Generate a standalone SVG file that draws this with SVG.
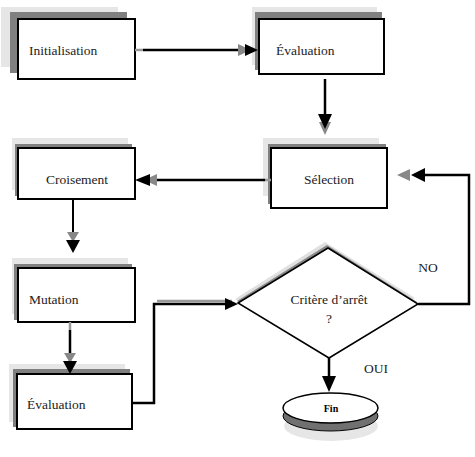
<svg xmlns="http://www.w3.org/2000/svg" width="475" height="457" viewBox="0 0 475 457">
<style>
.l1{fill:#e6e6e6}
.l2{fill:#808080}
.box{fill:#fff;stroke:#000;stroke-width:2}
text{font-family:'Liberation Serif','DejaVu Serif','Times New Roman',serif}
.t{font-size:13.5px;fill:#222}
.c{fill:none;stroke:#000;stroke-width:2.5}
.ah{fill:#000}
.ag{fill:#888}
</style>
<rect width="475" height="457" fill="#fff"/>
<g id="initialisation">
<rect class="l1" x="1" y="7" width="117" height="60"/>
<rect class="l2" x="10" y="12" width="117" height="61"/>
<rect class="box" x="18" y="19" width="117" height="60"/>
<text class="t" x="29" y="55" font-family="Liberation Serif, serif">Initialisation</text>
</g>
<g id="evaluation1">
<rect class="l1" x="252" y="7" width="125" height="58"/>
<rect class="l2" x="255" y="12" width="127" height="58"/>
<rect class="box" x="259" y="19" width="125" height="55"/>
<text class="t" x="276" y="55" font-family="Liberation Serif, serif">Évaluation</text>
</g>
<g id="selection">
<rect class="l1" x="263" y="138" width="116" height="58"/>
<rect class="l2" x="268" y="144" width="118" height="60"/>
<rect class="box" x="271" y="148" width="116" height="60"/>
<text class="t" x="329" y="184" text-anchor="middle" font-family="Liberation Serif, serif">Sélection</text>
</g>
<g id="croisement">
<rect class="l1" x="12" y="138" width="116" height="52"/>
<rect class="l2" x="15" y="144" width="117" height="52"/>
<rect class="box" x="18" y="148" width="117" height="51"/>
<text class="t" x="77" y="184" text-anchor="middle" font-family="Liberation Serif, serif">Croisement</text>
</g>
<g id="mutation">
<rect class="l1" x="12" y="258" width="116" height="56"/>
<rect class="l2" x="14" y="264" width="118" height="56"/>
<rect class="box" x="18" y="268" width="117" height="54"/>
<text class="t" x="29" y="304" font-family="Liberation Serif, serif">Mutation</text>
</g>
<g id="evaluation2">
<rect class="l1" x="9" y="364" width="116" height="58"/>
<rect class="l2" x="13" y="369" width="117" height="58"/>
<rect class="box" x="17" y="374" width="115" height="55"/>
<text class="t" x="27" y="409" font-family="Liberation Serif, serif">Évaluation</text>
</g>
<g id="critere">
<polygon points="235,299 325,242 415,298 326,352" fill="#e0e0e0"/>
<polygon points="237,301 327,245 417,302 328,356" fill="#888"/>
<polygon points="238,303 328,248 418,304 329,358" fill="#fff" stroke="#000" stroke-width="1.5"/>
<text class="t" x="329" y="304" text-anchor="middle" font-family="Liberation Serif, serif">Critère d’arrêt</text>
<text class="t" x="329" y="323" text-anchor="middle" font-family="Liberation Serif, serif">?</text>
</g>
<g id="fin">
<ellipse cx="331" cy="426" rx="47" ry="15" fill="#e6e6e6"/>
<ellipse cx="330.5" cy="416" rx="47.5" ry="15" fill="#707070" stroke="#000" stroke-width="1"/>
<ellipse cx="330.5" cy="408" rx="47.5" ry="15" fill="#fff" stroke="#000" stroke-width="1.5"/>
<text x="331" y="412" text-anchor="middle" font-family="Liberation Serif, serif" font-size="10" font-weight="bold" fill="#000">Fin</text>
</g>
<g id="labels">
<text class="t" x="428" y="272" text-anchor="middle" font-family="Liberation Serif, serif">NO</text>
<text class="t" x="376" y="373" text-anchor="middle" font-family="Liberation Serif, serif">OUI</text>
</g>
<g id="connectors">
<line x1="135" y1="50" x2="143" y2="50" stroke="#999" stroke-width="2.5"/>
<line class="c" x1="143" y1="50" x2="248" y2="50"/>
<polygon class="ag" points="238,44 251,50 238,56"/>
<polygon class="ah" points="245,44 258,50 245,56"/>

<line class="c" x1="325" y1="79" x2="325" y2="118"/>
<polygon class="ag" points="319,122 325,135 331,122"/>
<polygon class="ah" points="318,114 325,129 332,114"/>

<line x1="271" y1="180" x2="265" y2="180" stroke="#999" stroke-width="2.5"/>
<line class="c" x1="265" y1="180" x2="146" y2="180"/>
<polygon class="ag" points="157,174 144,180 157,186"/>
<polygon class="ah" points="150,174 135,180 150,186"/>

<polyline class="c" points="418,304 469,304 469,175 418,175"/>
<polygon class="ag" points="410,169 397,175 410,181"/>
<polygon class="ah" points="425,168 411,175 425,182"/>

<line x1="73" y1="199" x2="73" y2="232" stroke="#000" stroke-width="2"/>
<polygon class="ag" points="67,232 73,242 79,232"/>
<polygon class="ah" points="66,240 73,253 80,240"/>

<line x1="70" y1="322" x2="70" y2="330" stroke="#999" stroke-width="2.5"/>
<line class="c" x1="70" y1="330" x2="70" y2="362"/>
<polygon class="ag" points="64,353 70,363 76,353"/>
<polygon class="ah" points="63,361 70,374 77,361"/>

<line x1="157" y1="301" x2="232" y2="301" stroke="#999" stroke-width="2.5"/>
<polyline class="c" points="132,403 154,403 154,304 226,304"/>
<polygon class="ah" points="225,298 238,304 225,310"/>

<line class="c" x1="329" y1="358" x2="329" y2="378"/>
<polygon class="ah" points="322,376 329,392 336,376"/>
</g>
</svg>
